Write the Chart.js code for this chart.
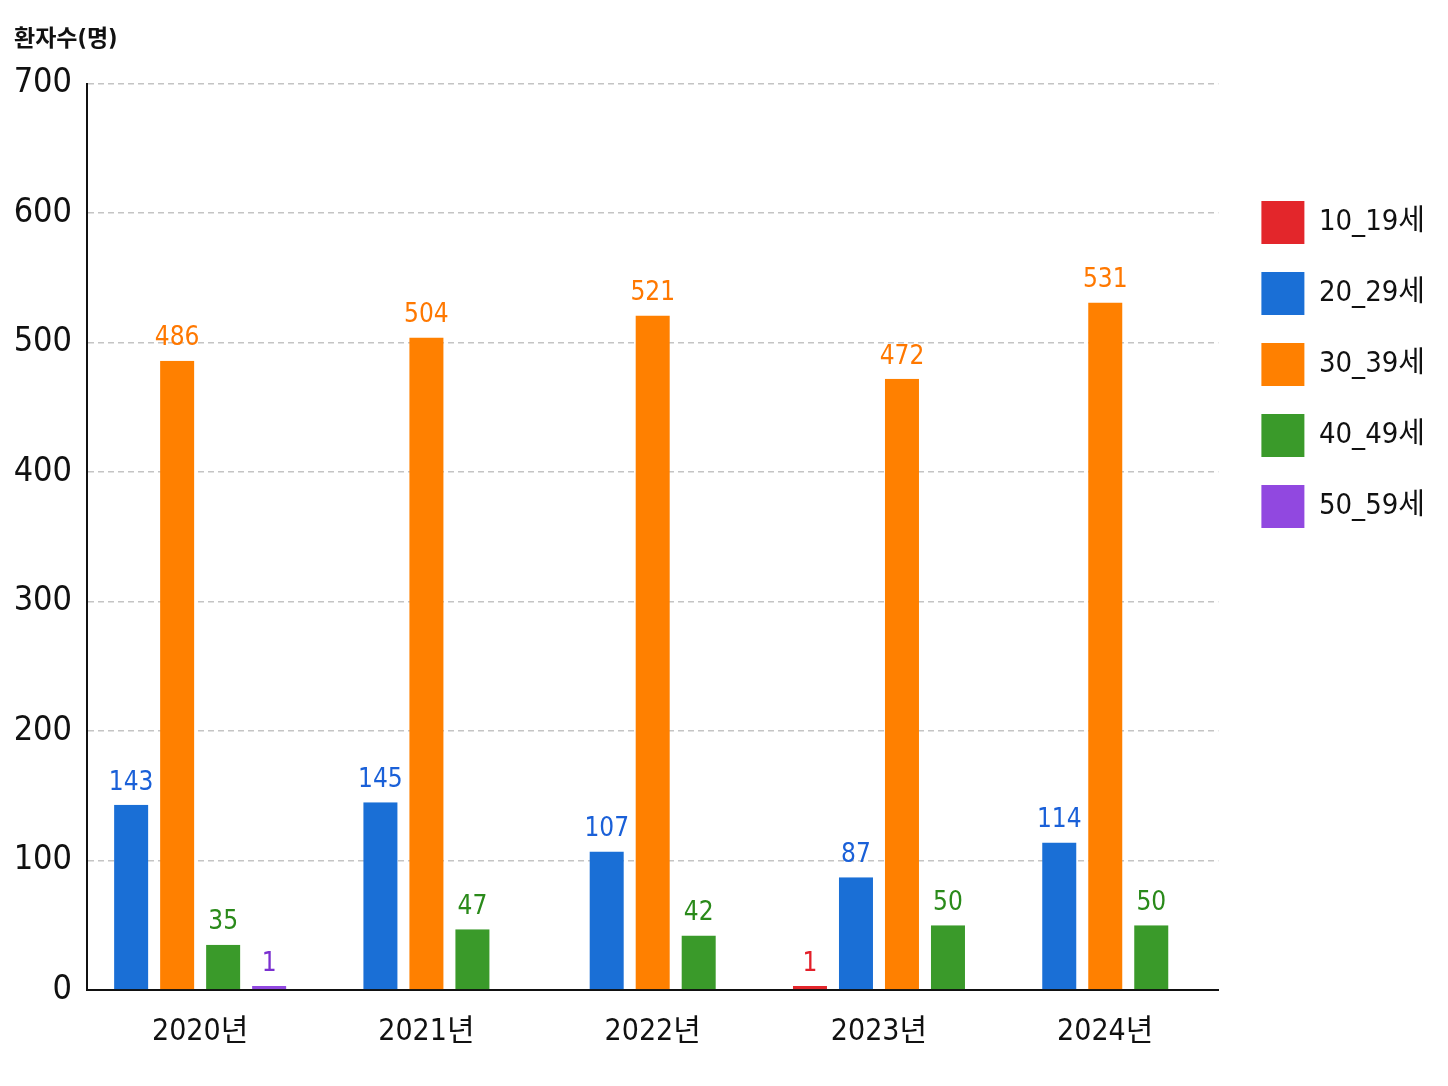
<!DOCTYPE html>
<html>
<head>
<meta charset="utf-8">
<script src="https://cdn.jsdelivr.net/npm/chart.js@4"></script>
<style>
  html, body { margin: 0; padding: 0; background: #fff; }
  #wrap { width: 1448px; height: 1086px; }
</style>
</head>
<body>
<div id="wrap"><canvas id="ageChart" width="1448" height="1086"></canvas></div>
<script>
// data
const years = ["2020년", "2021년", "2022년", "2023년", "2024년"];
const ageGroups = ["10_19세", "20_29세", "30_39세", "40_49세", "50_59세"];
const age10s = [null, null, null, 1, null];
const age20s = [143, 145, 107, 87, 114];
const age30s = [486, 504, 521, 472, 531];
const age40s = [35, 47, 42, 50, 50];
const age50s = [1, null, null, null, null];
const yTicks = [0, 100, 200, 300, 400, 500, 600, 700];

const barColors = ["#e3262b", "#1a6fd6", "#ff8000", "#3a9a2a", "#9148e0"];
const labelColors = ["#e3202a", "#1a60d8", "#ff7800", "#2a8a1a", "#7a30d0"];
const series = [age10s, age20s, age30s, age40s, age50s];

const FONT = "'DejaVu Sans Condensed', 'Noto Sans CJK KR', sans-serif";

// value labels above each bar
const valueLabels = {
    id: "valueLabels",
    afterDatasetsDraw(chart) {
        const ctx = chart.ctx;
        ctx.save();
        ctx.font = "26px " + FONT;
        ctx.textAlign = "center";
        ctx.textBaseline = "bottom";
        chart.data.datasets.forEach((ds, i) => {
            const meta = chart.getDatasetMeta(i);
            meta.data.forEach((bar, j) => {
                const v = ds.data[j];
                if (v === null || v === undefined) return;
                ctx.fillStyle = labelColors[i];
                ctx.fillText(String(v), bar.x, bar.y - 9);
            });
        });
        ctx.restore();
    }
};

const ctx = document.getElementById("ageChart").getContext("2d");
new Chart(ctx, {
    type: "bar",
    data: {
        labels: years,
        datasets: ageGroups.map((name, i) => ({
            label: name,
            data: series[i],
            backgroundColor: barColors[i],
            borderColor: "rgba(0,0,0,0)",
            borderWidth: { left: 6, right: 6, top: 0, bottom: 0 },
            borderSkipped: false,
            barThickness: 46,
            minBarLength: 4,
            inflateAmount: 0,
        })),
    },
    options: {
        responsive: false,
        animation: false,
        devicePixelRatio: 1,
        skipNull: true,
        layout: { padding: { left: 14, right: 13, top: 26, bottom: 20 } },
        scales: {
            x: {
                grid: { display: false },
                border: { color: "#111", width: 2 },
                ticks: { color: "#111", font: { family: FONT, size: 30 }, padding: 16 },
            },
            y: {
                min: 0,
                max: 700,
                afterBuildTicks(axis) {
                    axis.ticks = yTicks.map(v => ({ value: v }));
                },
                afterFit(scale) { scale.width = 73; },
                grid: {
                    color: (c) => c.tick && c.tick.value === 0 ? "rgba(0,0,0,0)" : "#c4c4c4",
                    lineWidth: 1.5,
                    drawTicks: false,
                },
                border: { color: "#111", width: 2, dash: [6, 4] },
                ticks: { color: "#111", font: { family: FONT, size: 34 }, padding: 15 },
            },
            // empty spacer between plot and legend
            gap: {
                axis: "y",
                position: "right",
                display: true,
                grid: { display: false },
                border: { display: false },
                ticks: { display: false },
                afterFit(scale) { scale.width = 15; },
            },
        },
        plugins: {
            legend: {
                position: "right",
                align: "start",
                title: {
                    display: true,
                    text: " ",
                    font: { size: 10 },
                    padding: { top: 135, bottom: 0 },
                },
                labels: {
                    boxWidth: 43,
                    boxHeight: 43,
                    padding: 28,
                    color: "#111",
                    font: { family: FONT, size: 29 },
                },
            },
            title: {
                display: true,
                text: "환자수(명)",
                align: "start",
                color: "#111",
                font: { family: FONT, size: 23, weight: "bold" },
                padding: { top: 0, bottom: 30 },
            },
            tooltip: { enabled: false },
        },
    },
    plugins: [valueLabels],
});
</script>
</body>
</html>
